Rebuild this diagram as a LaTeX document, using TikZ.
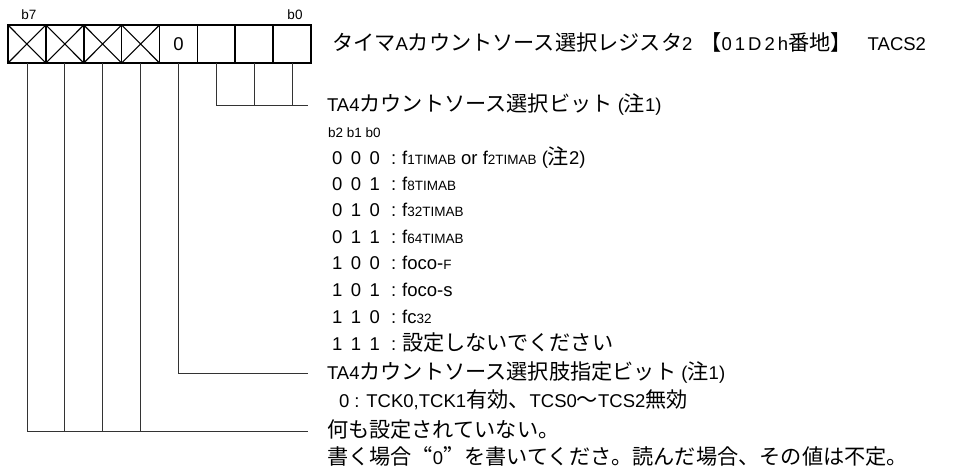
\documentclass[tikz,border=0pt]{standalone}
\usepackage{fontspec}
\setmainfont{Liberation Sans}
\newfontfamily\jpfont[Scale=1.145]{Noto Sans CJK JP}
\newfontfamily\jpwide[Scale=1.145,RawFeature=+fwid]{Noto Sans CJK JP}
\newcommand{\jp}[1]{{\jpfont #1}}
\newcommand{\sm}[1]{{\fontsize{13.5}{16}\selectfont #1}}
\newcommand{\bits}[3]{#1\hspace{8.5pt}#2\hspace{8.5pt}#3}
\begin{document}
\begin{tikzpicture}[x=1pt,y=-1pt,
    cell/.style={draw,line width=1.6pt,outer sep=0pt,inner sep=0pt,
      minimum width=37.875pt,minimum height=38pt,font=\fontsize{18.5}{22}\selectfont},
    txt/.style={anchor=west,inner sep=0pt,outer sep=0pt,text height=13pt,text depth=0pt,
      font=\fontsize{18.5}{22}\selectfont},
    bitno/.style={inner sep=0pt,font=\fontsize{13.5}{16}\selectfont},
    lead/.style={draw=black!80,line width=0.8pt}]
  \useasboundingbox (0,0) rectangle (953,475);
  % register
  \draw
    (26.94,44) node[cell] (c7){}
    (64.81,44) node[cell] (c6){}
    (102.69,44) node[cell] (c5){}
    (140.56,44) node[cell] (c4){}
    (178.44,44) node[cell] (c3){0}
    (216.31,44) node[cell] (c2){}
    (254.19,44) node[cell] (c1){}
    (292.06,44) node[cell] (c0){};
  \begin{scope}[line width=1.1pt]
    \draw (c7.north west) -- (c7.south east) (c7.south west) -- (c7.north east);
    \draw (c6.north west) -- (c6.south east) (c6.south west) -- (c6.north east);
    \draw (c5.north west) -- (c5.south east) (c5.south west) -- (c5.north east);
    \draw (c4.north west) -- (c4.south east) (c4.south west) -- (c4.north east);
  \end{scope}
  \draw
    (29,15) node[bitno] (b7){b7}
    (295,15) node[bitno] (b0){b0};
  \draw (332,44) node[txt] (title){\jp{タイマ}A\jp{カウントソース選択レジスタ}2\hspace{8pt}\jp{【}0\kern3pt1\kern3pt D\kern3pt2\kern3pt h\jp{番地】}\hspace{16pt}TACS2};
  % bits 2-0
  \draw
    (327,105) node[txt] (tsrc){TA4\jp{カウントソース選択ビット} (\jp{注}1)}
    (328,131) node[txt,font=\fontsize{13.5}{16}\selectfont] (hdr){b2 b1 b0};
  \draw
    (332,158) node[txt] (k0){\bits000}
    (332,184) node[txt] (k1){\bits001}
    (332,210) node[txt] (k2){\bits010}
    (332,237) node[txt] (k3){\bits011}
    (332,263) node[txt] (k4){\bits100}
    (332,290) node[txt] (k5){\bits101}
    (332,317) node[txt] (k6){\bits110}
    (332,344) node[txt] (k7){\bits111};
  \draw
    (391,158) node[txt] (v0){:\hspace{6pt}f\sm{1TIMAB} or f\sm{2TIMAB} (\jp{注}2)}
    (391,184) node[txt] (v1){:\hspace{6pt}f\sm{8TIMAB}}
    (391,210) node[txt] (v2){:\hspace{6pt}f\sm{32TIMAB}}
    (391,237) node[txt] (v3){:\hspace{6pt}f\sm{64TIMAB}}
    (391,263) node[txt] (v4){:\hspace{6pt}foco-\sm{F}}
    (391,290) node[txt] (v5){:\hspace{6pt}foco-s}
    (391,317) node[txt] (v6){:\hspace{6pt}fc\sm{32}}
    (391,344) node[txt] (v7){:\hspace{6pt}\jp{設定しないでください}};
  % bit 3
  \draw
    (327,373) node[txt] (tsel){TA4\jp{カウントソース選択肢指定ビット} (\jp{注}1)}
    (339,401) node[txt] (vsel){0 : TCK0,TCK1\jp{有効、}TCS0\jp{～}TCS2\jp{無効}};
  % bits 7-4
  \draw
    (327,431) node[txt] (tnone){\jp{何も設定されていない。}}
    (327,458) node[txt] (tnote){\jp{書く場合}{\jpwide “}0{\jpwide ”}\jp{を書いてくださ。読んだ場合、その値は不定。}};
  \begin{scope}[lead]
    \draw (c2.south) |- ([xshift=-19pt]tsrc.west);
    \draw (c1.south) -- (c1.south |- tsrc.west);
    \draw (c0.south) -- (c0.south |- tsrc.west);
    \draw (c3.south) |- ([xshift=-19pt]tsel.west);
    \draw (c7.south) |- ([xshift=-19pt]tnone.west);
    \draw (c6.south) -- (c6.south |- tnone.west);
    \draw (c5.south) -- (c5.south |- tnone.west);
    \draw (c4.south) -- (c4.south |- tnone.west);
  \end{scope}
\end{tikzpicture}
\end{document}
